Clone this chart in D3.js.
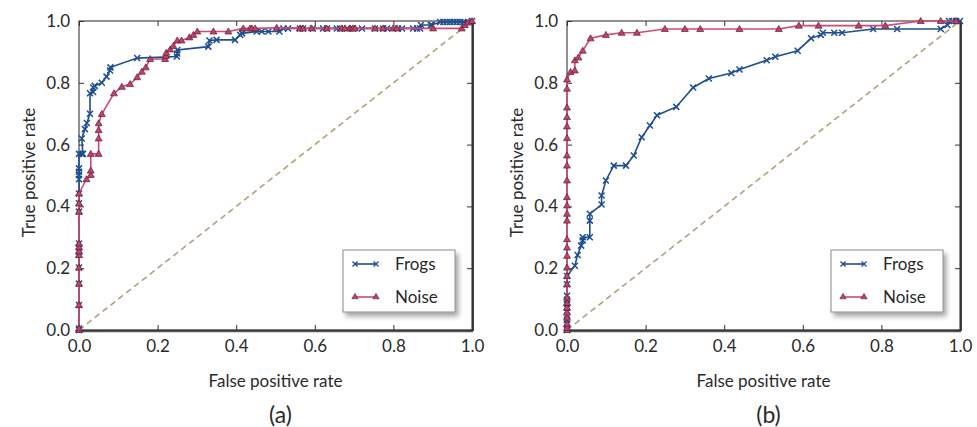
<!DOCTYPE html>
<html>
<head>
<meta charset="utf-8">
<script src="https://cdn.jsdelivr.net/npm/d3@7"></script>
<style>
  body { margin: 0; background: #fff; }
  text { font-family: Lato, "Open Sans", sans-serif; fill: #2a2a2a; }
</style>
</head>
<body>
<div id="chart"></div>
<script>
// tick values and labels
const ticks = [0, 0.2, 0.4, 0.6, 0.8, 1.0];
const seriesNames = ["Frogs", "Noise"];
const panelLabels = ["(a)", "(b)"];
const xLabel = "False positive rate";
const yLabel = "True positive rate";

// ROC points [false positive rate, true positive rate]
const frogsA = [[0,0],[0,0.005],[0,0.081],[0,0.15],[0,0.202],[0,0.243],[0,0.254],[0,0.268],[0,0.28],
  [0,0.383],[0,0.41],[0,0.442],[0,0.488],[0,0.502],[0,0.512],[0,0.523],[0,0.57],[0.007,0.57],[0.01,0.57],
  [0.007,0.62],[0.015,0.65],[0.02,0.67],[0.028,0.70],[0.028,0.766],[0.036,0.77],[0.036,0.785],[0.04,0.79],
  [0.058,0.80],[0.07,0.82],[0.079,0.84],[0.08,0.85],[0.148,0.88],[0.249,0.885],[0.25,0.895],[0.25,0.906],
  [0.329,0.917],[0.332,0.937],[0.35,0.939],[0.397,0.939],[0.41,0.955],[0.415,0.96],[0.452,0.966],
  [0.465,0.966],[0.482,0.966],[0.51,0.966],[0.52,0.976],[0.532,0.976],[0.562,0.976],[0.57,0.976],
  [0.595,0.976],[0.621,0.976],[0.631,0.976],[0.656,0.976],[0.664,0.976],[0.682,0.976],[0.697,0.976],
  [0.72,0.976],[0.753,0.976],[0.774,0.976],[0.784,0.976],[0.812,0.976],[0.822,0.976],[0.85,0.976],
  [0.86,0.976],[0.868,0.976],[0.87,0.987],[0.895,0.987],[0.898,0.987],[0.919,0.997],[0.927,0.997],
  [0.936,0.997],[0.944,0.997],[0.953,0.997],[0.961,0.997],[0.97,0.997],[0.978,0.997],[0.99,0.997],[1,1]];

const noiseA = [[0,0],[0,0.005],[0,0.081],[0,0.15],[0,0.202],[0,0.243],[0,0.254],[0,0.268],[0,0.28],
  [0,0.383],[0,0.41],[0,0.442],[0.019,0.488],[0.03,0.502],[0.03,0.516],[0.03,0.57],[0.05,0.57],[0.05,0.62],
  [0.05,0.647],[0.05,0.669],[0.058,0.699],[0.089,0.766],[0.109,0.787],[0.13,0.796],[0.148,0.818],
  [0.16,0.836],[0.17,0.85],[0.181,0.877],[0.219,0.877],[0.221,0.887],[0.222,0.897],[0.232,0.908],
  [0.24,0.919],[0.25,0.937],[0.261,0.937],[0.281,0.947],[0.291,0.955],[0.301,0.966],[0.342,0.966],
  [0.38,0.966],[0.418,0.976],[0.435,0.976],[0.44,0.976],[0.448,0.976],[0.503,0.978],[0.562,0.976],
  [0.57,0.976],[0.592,0.976],[0.63,0.976],[0.668,0.976],[0.677,0.976],[0.69,0.976],[0.697,0.976],
  [0.702,0.976],[0.753,0.976],[0.774,0.976],[0.799,0.976],[0.809,0.976],[0.901,0.976],[0.974,0.976],
  [0.982,0.987],[0.99,0.995],[1,1]];

const frogsB = [[0,0],[0,0.007],[0,0.02],[0,0.033],[0,0.046],[0,0.059],[0,0.072],[0,0.085],[0,0.098],
  [0,0.111],[0,0.148],[0,0.175],[0.02,0.208],[0.027,0.243],[0.036,0.273],[0.04,0.29],[0.04,0.30],
  [0.058,0.30],[0.058,0.354],[0.058,0.376],[0.088,0.406],[0.088,0.435],[0.099,0.484],[0.119,0.532],
  [0.15,0.532],[0.17,0.565],[0.19,0.624],[0.211,0.662],[0.229,0.695],[0.278,0.722],[0.321,0.785],
  [0.361,0.814],[0.418,0.832],[0.439,0.843],[0.508,0.873],[0.53,0.884],[0.587,0.904],[0.621,0.944],
  [0.646,0.955],[0.651,0.962],[0.68,0.962],[0.70,0.962],[0.779,0.974],[0.84,0.974],[0.951,0.974],
  [0.968,0.987],[0.972,1],[0.98,1],[0.99,1],[1,1]];

const noiseB = [[0,0],[0,0.007],[0,0.02],[0,0.04],[0,0.056],[0,0.072],[0,0.088],[0,0.105],[0,0.148],
  [0,0.175],[0,0.202],[0,0.24],[0,0.267],[0,0.294],[0,0.354],[0,0.376],[0,0.403],[0,0.43],[0,0.484],
  [0,0.532],[0,0.565],[0,0.621],[0,0.659],[0,0.689],[0,0.72],[0,0.781],[0,0.811],[0.009,0.835],
  [0.02,0.84],[0.02,0.873],[0.029,0.882],[0.04,0.904],[0.06,0.944],[0.099,0.955],[0.139,0.962],
  [0.178,0.962],[0.249,0.974],[0.30,0.974],[0.339,0.974],[0.439,0.974],[0.539,0.974],[0.59,0.985],
  [0.64,0.985],[0.742,0.985],[0.81,0.985],[0.90,1],[0.951,1],[0.99,1]];

const blue = "#1d4e8f", red = "#cf4a74", triFill = "#c2416b", triEdge = "#5b1f33", diag = "#b3a07a";

const svg = d3.select("#chart").append("svg")
    .attr("width", 977)
    .attr("height", 427);

svg.append("rect").attr("width", 977).attr("height", 427).attr("fill", "#fff");

const defs = svg.append("defs");
defs.append("filter").attr("id", "shadow")
    .attr("x", "-20%").attr("y", "-20%").attr("width", "150%").attr("height", "160%")
  .append("feDropShadow")
    .attr("dx", 3).attr("dy", 4).attr("stdDeviation", 2.5)
    .attr("flood-color", "#000").attr("flood-opacity", 0.35);

const width = 393, height = 309, plotTop = 21;
const panelLeft = [79, 567];

const triangle = d3.symbol().type(d3.symbolTriangle).size(21);
const legendTriangle = d3.symbol().type(d3.symbolTriangle).size(17);

function drawCross(g, data, x, y) {
    g.selectAll(".cross")
        .data(data)
        .join("path")
        .attr("d", d => {
            const cx = x(d[0]), cy = y(d[1]), r = 3;
            return `M${cx - r},${cy - r}L${cx + r},${cy + r}M${cx - r},${cy + r}L${cx + r},${cy - r}`;
        })
        .attr("stroke", blue)
        .attr("stroke-width", 1.5)
        .attr("fill", "none");
}

function drawTriangles(g, data, x, y) {
    g.selectAll(".tri")
        .data(data)
        .join("path")
        .attr("d", triangle)
        .attr("transform", d => `translate(${x(d[0])},${y(d[1]) + 0.5})`)
        .attr("fill", triFill)
        .attr("stroke", triEdge)
        .attr("stroke-width", 0.7);
}

function drawPanel(i, frogs, noise) {
    const g = svg.append("g").attr("transform", `translate(${panelLeft[i]},${plotTop})`);

    const x = d3.scaleLinear().domain([0, 1]).range([0, width]);
    const y = d3.scaleLinear().domain([0, 1]).range([height, 0]);

    // frame with a little shadow on bottom / right
    g.append("line").attr("x1", 0).attr("x2", width + 1).attr("y1", height + 1).attr("y2", height + 1)
        .attr("stroke", "#555").attr("stroke-width", 2.5);
    g.append("line").attr("x1", width + 1).attr("x2", width + 1).attr("y1", 0).attr("y2", height + 1)
        .attr("stroke", "#444").attr("stroke-width", 2);
    g.append("rect").attr("width", width).attr("height", height)
        .attr("fill", "none").attr("stroke", "#222").attr("stroke-width", 1);

    const fmt = d3.format(".1f");
    const bottom = g.append("g").attr("transform", `translate(0,${height})`)
        .call(d3.axisBottom(x).tickValues(ticks).tickFormat(fmt).tickSizeInner(-5).tickSizeOuter(0).tickPadding(10));
    const left = g.append("g")
        .call(d3.axisLeft(y).tickValues(ticks).tickFormat(fmt).tickSizeInner(-5).tickSizeOuter(0).tickPadding(9));
    const topAx = g.append("g")
        .call(d3.axisTop(x).tickValues(ticks).tickFormat("").tickSizeInner(-5).tickSizeOuter(0));
    const rightAx = g.append("g").attr("transform", `translate(${width},0)`)
        .call(d3.axisRight(y).tickValues(ticks).tickFormat("").tickSizeInner(-5).tickSizeOuter(0));

    [bottom, left, topAx, rightAx].forEach(a => {
        a.select(".domain").remove();
        a.selectAll(".tick line").attr("stroke", "#333");
        a.selectAll("text").style("font-size", "17px").attr("fill", "#2a2a2a").style("font-family", "Lato, sans-serif");
    });

    // chance diagonal
    g.append("path")
        .datum([[0, 0], [1, 1]])
        .attr("d", d3.line().x(d => x(d[0])).y(d => y(d[1])))
        .attr("stroke", diag).attr("stroke-width", 1.6)
        .attr("stroke-dasharray", "6,4").attr("fill", "none");

    const line = d3.line().x(d => x(d[0])).y(d => y(d[1]));

    g.append("path").datum(frogs).attr("d", line)
        .attr("stroke", blue).attr("stroke-width", 1.6).attr("fill", "none");
    drawCross(g.append("g"), frogs, x, y);

    g.append("path").datum(noise).attr("d", line)
        .attr("stroke", red).attr("stroke-width", 1.6).attr("fill", "none");
    drawTriangles(g.append("g"), noise, x, y);

    // axis titles
    g.append("text")
        .attr("x", width / 2).attr("y", height + 57)
        .attr("text-anchor", "middle").style("font-size", "17px")
        .text(xLabel);
    g.append("text")
        .attr("transform", `translate(-44,${height / 2 - 3}) rotate(-90)`)
        .attr("text-anchor", "middle").style("font-size", "17px")
        .text(yLabel);
    g.append("text")
        .attr("x", width / 2 + 5).attr("y", height + 93)
        .attr("text-anchor", "middle").style("font-size", "23px")
        .text(panelLabels[i]);

    // legend
    const lg = g.append("g").attr("transform", `translate(${width - 129},${229})`);
    lg.append("rect").attr("width", 112).attr("height", 62)
        .attr("fill", "#fff").attr("stroke", "#8a8a8a").attr("stroke-width", 1)
        .attr("filter", "url(#shadow)");
    const rows = lg.selectAll(".row").data(seriesNames).join("g")
        .attr("transform", (d, k) => `translate(0,${14 + k * 33})`);
    rows.append("line").attr("x1", 12).attr("x2", 33).attr("y1", 0).attr("y2", 0)
        .attr("stroke", (d, k) => k === 0 ? blue : red).attr("stroke-width", 1.6);
    rows.each(function (d, k) {
        const r = d3.select(this);
        [12, 33].forEach(px => {
            if (k === 0) {
                r.append("path").attr("d", `M${px - 2.5},-2.5L${px + 2.5},2.5M${px - 2.5},2.5L${px + 2.5},-2.5`)
                    .attr("stroke", blue).attr("stroke-width", 1.4);
            } else {
                r.append("path").attr("d", legendTriangle).attr("transform", `translate(${px},0)`)
                    .attr("fill", triFill).attr("stroke", triEdge).attr("stroke-width", 0.6);
            }
        });
    });
    rows.append("text").attr("x", 52).attr("y", 0).attr("dy", "0.35em")
        .style("font-size", "17px").text(d => d);
}

drawPanel(0, frogsA, noiseA);
drawPanel(1, frogsB, noiseB);
</script>
</body>
</html>
